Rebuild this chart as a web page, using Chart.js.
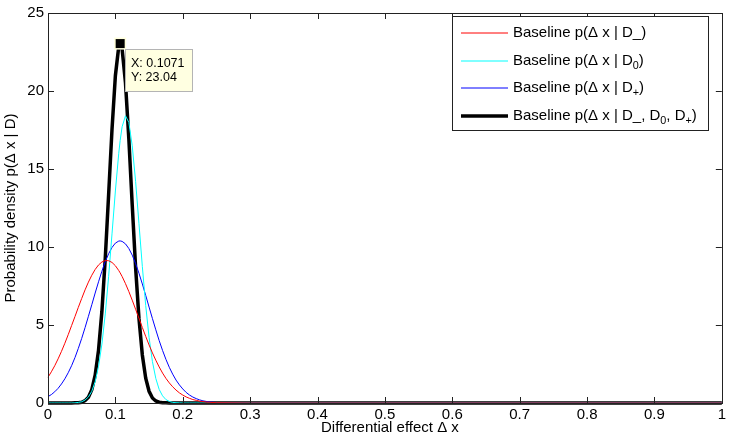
<!DOCTYPE html>
<html>
<head>
<meta charset="utf-8">
<script src="https://cdn.jsdelivr.net/npm/chart.js@4.4.0/dist/chart.umd.min.js"></script>
<style>
html,body{margin:0;padding:0;background:#fff;}
#wrap{width:729px;height:445px;position:relative;}
</style>
</head>
<body>
<div id="wrap"><canvas id="c" width="729" height="445"></canvas></div>
<script>
// x positions (differential effect Δx)
const xValues = [0,0.005,0.01,0.015,0.02,0.025,0.03,0.035,0.04,0.045,0.05,0.055,0.06,0.065,0.07,0.075,0.08,0.085,0.09,0.095,0.1,0.105,0.1071,
  0.11,0.115,0.12,0.125,0.13,0.135,0.14,0.145,0.15,0.155,0.16,0.165,0.17,0.175,0.18,0.185,0.19,0.195,0.2,0.205,0.21,0.215,0.22,0.225,0.23,0.235,0.24,0.245,0.25,
  0.3,1];
const redMinus = [1.65,2.00,2.39,2.83,3.31,3.83,4.38,4.96,5.54,6.13,6.70,7.25,7.75,8.19,8.56,8.85,9.04,9.13,9.12,9.01,8.80,8.49,8.34,
  8.11,7.65,7.14,6.59,6.01,5.43,4.84,4.27,3.72,3.21,2.74,2.31,1.92,1.58,1.29,1.04,0.83,0.65,0.51,0.39,0.30,0.22,0.17,0.12,0.09,0.06,0.05,0.03,0.02,
  0,0];
const cyanZero = [0,0,0,0,0,0,0,0,0.01,0.04,0.08,0.19,0.39,0.75,1.37,2.35,3.78,5.71,8.12,10.84,13.59,16.01,16.83,
  17.71,18.41,17.98,16.49,14.21,11.51,8.75,6.25,4.20,2.65,1.57,0.87,0.46,0.22,0.10,0.04,0.02,0.01,0,0,0,0,0,0,0,0,0,0,0,
  0,0];
const bluePlus = [0.41,0.54,0.72,0.94,1.22,1.55,1.94,2.39,2.91,3.50,4.14,4.83,5.56,6.30,7.05,7.77,8.45,9.06,9.57,9.97,10.25,10.38,10.39,
  10.36,10.20,9.90,9.48,8.94,8.32,7.63,6.90,6.15,5.41,4.69,4.00,3.37,2.80,2.29,1.85,1.47,1.16,0.90,0.68,0.51,0.38,0.28,0.20,0.14,0.10,0.07,0.05,0.03,
  0,0];
const blackAll = [0,0,0,0,0,0,0,0,0.01,0.02,0.05,0.15,0.37,0.86,1.78,3.39,5.88,9.29,13.38,17.55,20.98,22.85,23.04,
  22.68,20.52,16.91,12.70,8.69,5.42,3.08,1.59,0.75,0.32,0.13,0.05,0.02,0.01,0,0,0,0,0,0,0,0,0,0,0,0,0,0,0,
  0,0];
const seriesLabels = ['Baseline p(\u0394 x | D_)','Baseline p(\u0394 x | D_{0})','Baseline p(\u0394 x | D_{+})','Baseline p(\u0394 x | D_, D_{0}, D_{+})'];
const xTicks = [0,0.1,0.2,0.3,0.4,0.5,0.6,0.7,0.8,0.9,1];
const yTicks = [0,5,10,15,20,25];
const xTitle = 'Differential effect \u0394 x';
const yTitle = 'Probability density p(\u0394 x | D)';
const tipPoint = {x:0.1071, y:23.04};
const tipLines = ['X: 0.1071','Y: 23.04'];

const FONT = '"Liberation Sans", Arial, sans-serif';

function pts(ys){ return xValues.map((x,i)=>({x:x,y:ys[i]})); }

const colors = ['#ff0000','#00ffff','#0000ff','#000000'];
const widths = [1,1,1,3.5];
const allSeries = [redMinus,cyanZero,bluePlus,blackAll];

const datasets = allSeries.map((s,i)=>({
  label: seriesLabels[i],
  data: pts(s),
  borderColor: colors[i],
  borderWidth: widths[i],
  pointRadius: 0,
  tension: 0,
  fill: false,
  clip: false
}));

function drawRich(ctx, text, x, y, size){
  let parts = [];
  let i=0, buf='';
  while(i<text.length){
    if(text[i]==='_' && text[i+1]==='{'){
      if(buf){parts.push({t:buf,sub:false}); buf='';}
      const j=text.indexOf('}',i);
      parts.push({t:text.slice(i+2,j),sub:true});
      i=j+1;
    } else { buf+=text[i]; i++; }
  }
  if(buf) parts.push({t:buf,sub:false});
  let cx=x;
  for(const p of parts){
    if(p.sub){
      ctx.font = (size*0.72).toFixed(1)+'px '+FONT;
      ctx.fillText(p.t,cx,y+5);
    } else {
      ctx.font = size+'px '+FONT;
      ctx.fillText(p.t,cx,y);
    }
    cx += ctx.measureText(p.t).width;
  }
}

const decorPlugin = {
  id:'decor',
  afterDraw(chart){
    const ctx = chart.ctx;
    const a = chart.chartArea;
    const xs = chart.scales.x, ys = chart.scales.y;
    ctx.save();
    ctx.strokeStyle = '#222';
    ctx.lineWidth = 1;
    ctx.strokeRect(Math.round(a.left)+0.5, Math.round(a.top)+0.5, Math.round(a.right-a.left), Math.round(a.bottom-a.top));
    const tl = 6;
    ctx.beginPath();
    for(const v of xTicks){
      const px = Math.round(xs.getPixelForValue(v))+0.5;
      ctx.moveTo(px,a.bottom); ctx.lineTo(px,a.bottom-tl);
      ctx.moveTo(px,a.top); ctx.lineTo(px,a.top+tl);
    }
    for(const v of yTicks){
      const py = Math.round(ys.getPixelForValue(v))+0.5;
      ctx.moveTo(a.left,py); ctx.lineTo(a.left+tl,py);
      ctx.moveTo(a.right,py); ctx.lineTo(a.right-tl,py);
    }
    ctx.stroke();
    ctx.fillStyle = '#000';
    ctx.font = '15px '+FONT;
    ctx.textAlign='center'; ctx.textBaseline='middle';
    ctx.fillText(xTitle, (a.left+a.right)/2+5, 428);
    ctx.save();
    ctx.translate(11,(a.top+a.bottom)/2);
    ctx.rotate(-Math.PI/2);
    ctx.fillText(yTitle,0,0);
    ctx.restore();

    const lx=452, ly=16, lw=256, lh=114;
    ctx.fillStyle='#fff';
    ctx.fillRect(lx,ly,lw,lh);
    ctx.strokeStyle='#222'; ctx.lineWidth=1;
    ctx.strokeRect(lx+0.5,ly+0.5,lw,lh);
    const rowY=[33,61,88,116];
    ctx.textAlign='left'; ctx.textBaseline='middle';
    chart.data.datasets.forEach((d,i)=>{
      ctx.strokeStyle=d.borderColor; ctx.lineWidth=d.borderWidth;
      ctx.beginPath(); ctx.moveTo(461,rowY[i]); ctx.lineTo(508,rowY[i]); ctx.stroke();
      ctx.fillStyle='#000';
      drawRich(ctx,d.label,513,rowY[i],15);
    });

    const px = xs.getPixelForValue(tipPoint.x), py = ys.getPixelForValue(tipPoint.y);
    ctx.fillStyle='#ffffdc';
    ctx.fillRect(px-6,py-6,12,12);
    ctx.fillStyle='#000';
    ctx.fillRect(px-4.5,py-4.5,9,9);
    const bx=Math.round(px)+5, by=Math.round(py)+5, bw=67, bh=42;
    ctx.fillStyle='#ffffe1';
    ctx.fillRect(bx,by,bw,bh);
    ctx.strokeStyle='#b4b4b4'; ctx.lineWidth=1;
    ctx.strokeRect(bx+0.5,by+0.5,bw,bh);
    ctx.fillStyle='#000';
    ctx.font='12.5px '+FONT;
    ctx.textAlign='left'; ctx.textBaseline='middle';
    ctx.fillText(tipLines[0],bx+6,by+15);
    ctx.fillText(tipLines[1],bx+6,by+29);
    ctx.restore();
  }
};

new Chart(document.getElementById('c'),{
  type:'line',
  data:{datasets:datasets},
  plugins:[decorPlugin],
  options:{
    responsive:false,
    animation:false,
    layout:{padding:{left:0,top:9,right:6,bottom:0}},
    plugins:{legend:{display:false},tooltip:{enabled:false}},
    scales:{
      x:{
        type:'linear', min:0, max:1,
        afterBuildTicks(s){ s.ticks = xTicks.map(v=>({value:v})); },
        afterFit(s){ s.height = 42; },
        grid:{display:false, drawTicks:false},
        border:{display:false},
        ticks:{color:'#000', font:{family:FONT,size:15}, padding:3, maxRotation:0, autoSkip:false,
          callback:(v)=>String(Math.round(v*10)/10)}
      },
      y:{
        type:'linear', min:0, max:25,
        afterBuildTicks(s){ s.ticks = yTicks.map(v=>({value:v})); },
        afterFit(s){ s.width = 48; },
        grid:{display:false, drawTicks:false},
        border:{display:false},
        ticks:{color:'#000', font:{family:FONT,size:15}, padding:4, autoSkip:false}
      }
    }
  }
});
</script>
</body>
</html>
